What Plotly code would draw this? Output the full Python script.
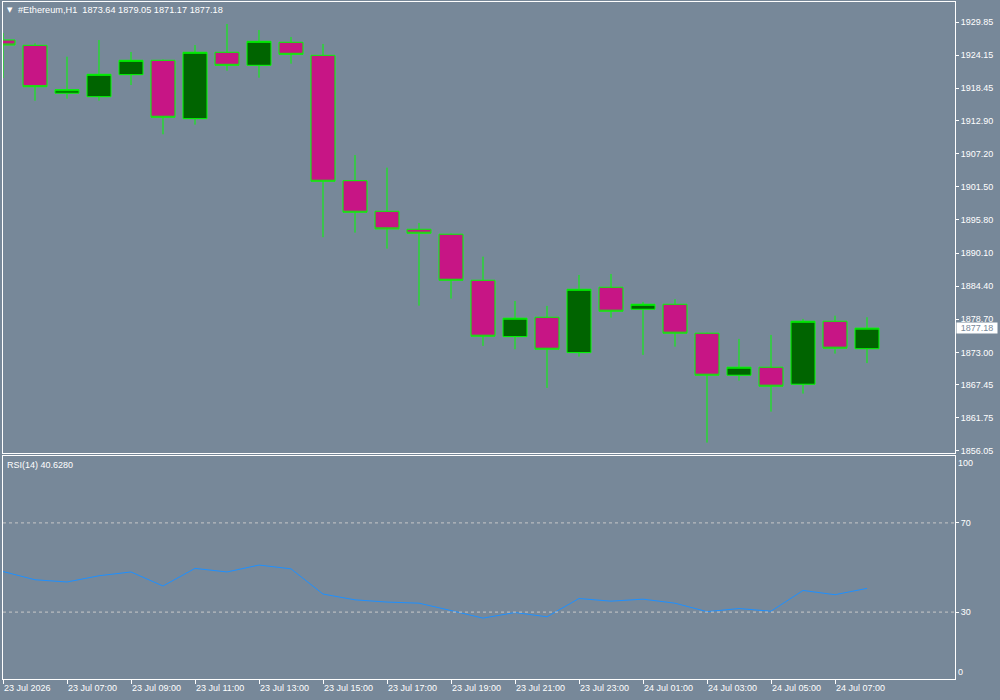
import plotly.graph_objects as go
import pandas as pd

# ---------------- data ----------------
times = pd.date_range("2026-07-23 05:00", periods=28, freq="h")

opens = [1926.75, 1925.84, 1917.60, 1917.00, 1920.79, 1923.26, 1913.22, 1924.64,
         1922.40, 1926.36, 1924.12, 1902.55, 1897.29, 1894.19, 1893.34, 1885.42,
         1875.72, 1879.06, 1872.97, 1884.22, 1880.43, 1881.29, 1876.31, 1869.08,
         1870.46, 1867.53, 1878.37, 1873.64]
highs = [1927.96, 1926.19, 1923.88, 1926.75, 1924.69, 1923.40, 1925.89, 1929.51,
         1928.47, 1927.27, 1926.07, 1906.97, 1904.79, 1895.28, 1893.45, 1889.48,
         1881.86, 1881.00, 1886.33, 1886.50, 1881.69, 1882.16, 1876.40, 1875.33,
         1876.01, 1878.77, 1879.33, 1879.05]
lows = [1920.22, 1916.31, 1916.66, 1916.31, 1919.01, 1910.53, 1912.19, 1921.47,
        1920.27, 1922.68, 1892.82, 1893.61, 1890.86, 1881.05, 1882.26, 1874.12,
        1873.55, 1866.90, 1872.28, 1878.99, 1872.58, 1874.00, 1857.49, 1868.15,
        1862.82, 1865.92, 1872.80, 1871.17]
closes = [1925.89, 1918.72, 1918.20, 1920.85, 1923.26, 1913.46, 1924.64, 1922.40,
          1926.53, 1924.29, 1902.45, 1897.12, 1894.25, 1893.51, 1885.42, 1875.79,
          1878.89, 1873.55, 1883.87, 1880.09, 1881.29, 1876.31, 1869.08, 1870.46,
          1867.19, 1878.37, 1873.73, 1877.18]

rsi = [48.2, 44.5, 43.5, 46.3, 48.0, 41.7, 49.6, 48.0, 51.1, 49.4, 38.1, 35.5,
       34.5, 34.0, 30.7, 27.3, 29.8, 27.9, 36.1, 34.9, 35.8, 34.0, 30.2, 31.6,
       30.4, 39.7, 37.8, 40.63]
rsi_levels = [30, 70]

price_ticks = ["1929.85", "1924.15", "1918.45", "1912.90", "1907.20", "1901.50",
               "1895.80", "1890.10", "1884.40", "1878.70", "1873.00", "1867.45",
               "1861.75", "1856.05"]
time_tick_labels = ["23 Jul 2026", "23 Jul 07:00", "23 Jul 09:00", "23 Jul 11:00",
                    "23 Jul 13:00", "23 Jul 15:00", "23 Jul 17:00", "23 Jul 19:00",
                    "23 Jul 21:00", "23 Jul 23:00", "24 Jul 01:00", "24 Jul 03:00",
                    "24 Jul 05:00", "24 Jul 07:00"]
time_tick_vals = list(times[0::2])

symbol_title = "#Ethereum,H1"
rsi_title = "RSI(14) 40.6280"
last_price = closes[-1]

# ---------------- styling ----------------
BG = "#778899"
FONT = "Liberation Sans"
x_range = ["2026-07-23 05:00", "2026-07-24 10:45"]

fig = go.Figure()
fig.add_trace(go.Candlestick(
    x=times, open=opens, high=highs, low=lows, close=closes,
    increasing=dict(fillcolor="#006400", line=dict(color="#00FF00", width=1)),
    decreasing=dict(fillcolor="#C71585", line=dict(color="#00FF00", width=1)),
    whiskerwidth=0, xaxis="x", yaxis="y", showlegend=False, hoverinfo="skip"))

fig.add_trace(go.Scatter(
    x=times, y=rsi, mode="lines", line=dict(color="#1E90FF", width=1),
    xaxis="x2", yaxis="y2", showlegend=False, hoverinfo="skip"))

for lv in rsi_levels:
    fig.add_shape(type="line", xref="x2 domain", x0=0, x1=1, yref="y2", y0=lv, y1=lv,
                  line=dict(color="#C8C8C8", width=1, dash="3px,3px"))

axis_common = dict(showgrid=False, zeroline=False, showline=True, mirror=True,
                   linecolor="white", linewidth=1)

fig.update_layout(
    width=1000, height=700,
    margin=dict(l=3, r=45, t=2, b=21),
    paper_bgcolor=BG, plot_bgcolor=BG,
    font=dict(family=FONT, size=9, color="white"),
    showlegend=False,
    boxgap=0.25, boxgroupgap=0,
    xaxis=dict(domain=[0, 1], anchor="y", range=x_range, showticklabels=False,
               ticks="", rangeslider=dict(visible=False), **axis_common),
    xaxis2=dict(domain=[0, 1], anchor="y2", matches="x", range=x_range,
                tickmode="array", tickvals=time_tick_vals, ticktext=time_tick_labels,
                ticks="outside", ticklen=4, tickcolor="white",
                ticklabelposition="outside right",
                tickfont=dict(family=FONT, size=9, color="white"), **axis_common),
    yaxis=dict(domain=[0.33383, 1], anchor="x", side="right",
               range=[1855.70, 1933.29], tickmode="array",
               tickvals=[float(t) for t in price_ticks], ticktext=price_ticks,
               ticks="outside", ticklen=3, tickcolor="white",
               tickfont=dict(family=FONT, size=9, color="white"), **axis_common),
    yaxis2=dict(domain=[0, 0.32939], anchor="x2", side="right", range=[0, 100],
                tickmode="array", tickvals=rsi_levels, ticktext=[str(v) for v in rsi_levels],
                ticks="outside", ticklen=3, tickcolor="white",
                tickfont=dict(family=FONT, size=9, color="white"), **axis_common),
)

annotations = [
    dict(text="\u25BC", xref="paper", yref="paper", x=0, y=1, xanchor="left",
         yanchor="middle", xshift=2, yshift=-8, showarrow=False,
         font=dict(family="DejaVu Sans", size=7, color="white")),
    dict(text=symbol_title + "\u00a0\u00a0" + " ".join(f"{v:.2f}" for v in
         [opens[-1], highs[-1], lows[-1], closes[-1]]),
         xref="paper", yref="paper", x=0, y=1, xanchor="left", yanchor="middle",
         xshift=13, yshift=-8, showarrow=False,
         font=dict(family=FONT, size=9.2, color="white")),
    dict(text=rsi_title, xref="paper", yref="y2 domain", x=0, y=1, xanchor="left",
         yanchor="middle", xshift=2, yshift=-9, showarrow=False,
         font=dict(family=FONT, size=9, color="white")),
    dict(text="100", xref="paper", yref="y2 domain", x=1, y=1, xanchor="left",
         yanchor="middle", xshift=1, yshift=-7, showarrow=False,
         font=dict(family=FONT, size=9, color="white")),
    dict(text="0", xref="paper", yref="y2 domain", x=1, y=0, xanchor="left",
         yanchor="middle", xshift=1, yshift=7, showarrow=False,
         font=dict(family=FONT, size=9, color="white")),
    dict(text=f"{last_price:.2f}", xref="paper", yref="y", x=1, y=last_price,
         xanchor="left", yanchor="middle", xshift=1, showarrow=False,
         bgcolor="white", width=40, height=10, borderpad=0,
         font=dict(family=FONT, size=9, color=BG)),
]
fig.update_layout(annotations=annotations)

fig.write_html("out.html")
